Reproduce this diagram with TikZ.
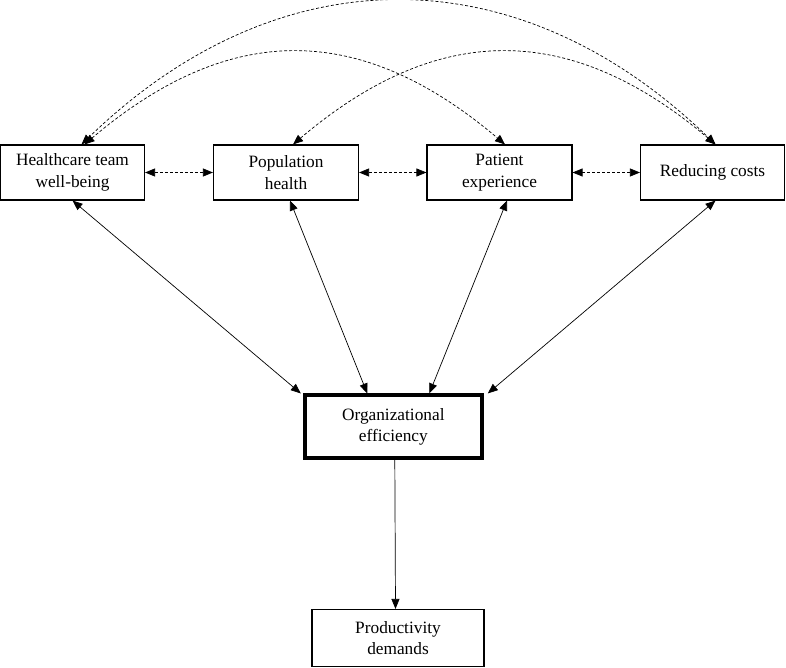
\documentclass[tikz,border=0pt]{standalone}
\usepackage{fontspec}
\setmainfont{Liberation Serif}
\usetikzlibrary{arrows.meta}
\begin{document}
\begin{tikzpicture}[x=1pt,y=-1pt,
  box/.style={draw,line width=1.1pt,rectangle,align=center,inner sep=0pt,
    font=\fontsize{17.3}{21.5}\selectfont},
  thickbox/.style={box,line width=4pt},
  tip/.style={-{Triangle[length=10pt,width=8pt]}},
  biarrow/.style={{Triangle[length=10pt,width=8pt]}-{Triangle[length=10pt,width=8pt]},line width=0.7pt},
  dasharrow/.style={biarrow,dash pattern=on 3pt off 2pt},
]
\useasboundingbox (0,0) rectangle (786,668);
\node[box,minimum width=144pt,minimum height=55pt] (h) at (72.5,172.5) {Healthcare team\\well-being};
\node[box,minimum width=145pt,minimum height=55pt] (p) at (286,172.5) {Population\\health};
\node[box,minimum width=145pt,minimum height=55pt] (e) at (499.5,172.5) {Patient\\experience};
\node[box,minimum width=144pt,minimum height=55pt] (r) at (712.5,172.5) {Reducing costs};
\node[thickbox,minimum width=177pt,minimum height=62.5pt] (o) at (393.3,426.7) {Organizational\\efficiency};
\node[box,minimum width=172pt,minimum height=57pt] (d) at (398,638) {Productivity\\demands};

% dashed horizontal links
\draw[dasharrow] (h.east) -- (p.west);
\draw[dasharrow] (p.east) -- (e.west);
\draw[dasharrow] (e.east) -- (r.west);

% dashed arcs
\draw[dasharrow] ([xshift=9pt]h.north) .. controls +(197,-191) and +(-197,-191) .. ([xshift=3pt]r.north);
\draw[dasharrow] ([xshift=12pt]h.north) .. controls +(145,-123) and +(-145,-123) .. ([xshift=5.5pt]e.north);
\draw[dasharrow] ([xshift=7pt]p.north) .. controls +(145,-123) and +(-145,-123) .. ([xshift=3pt]r.north);

% solid links
\draw[biarrow] (h.south) -- ([xshift=-2pt]o.north west);
\draw[biarrow] ([xshift=4pt]p.south) -- ([xshift=-26pt]o.north);
\draw[biarrow] ([xshift=7.5pt]e.south) -- ([xshift=36pt]o.north);
\draw[biarrow] ([xshift=3pt]r.south) -- ([xshift=4pt]o.north east);
\draw[tip,line width=0.7pt] ([xshift=1.5pt]o.south) -- ([xshift=-2.5pt]d.north);
\end{tikzpicture}
\end{document}
